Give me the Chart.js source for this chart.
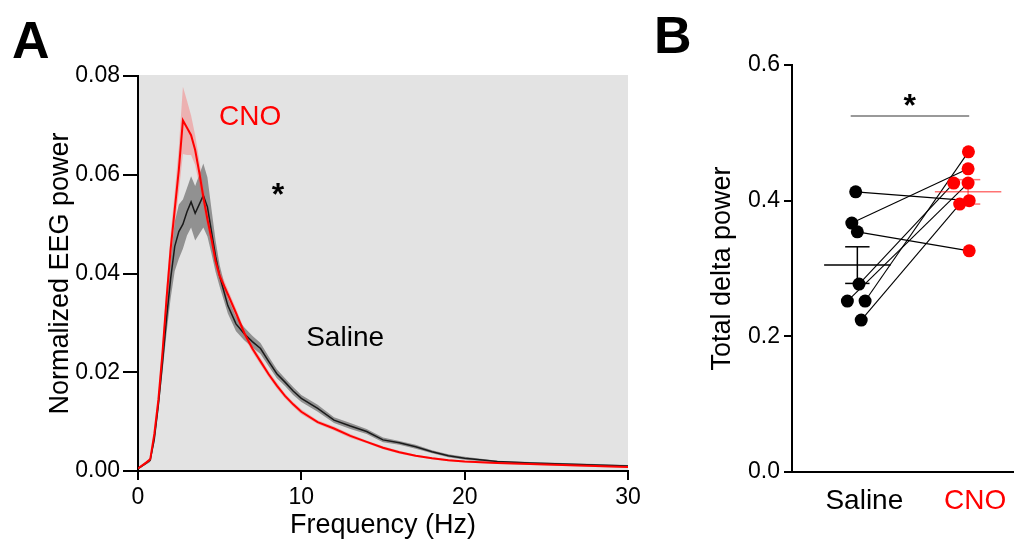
<!DOCTYPE html>
<html>
<head>
  <meta charset="UTF-8">
  <title>EEG power spectrum and delta power</title>
  <script src="https://cdn.jsdelivr.net/npm/chart.js"></script>
  <style>
    body { margin: 0; background: #fff; font-family: "Liberation Sans", Arial, sans-serif; }
    #wrap { position: relative; width: 1020px; height: 548px; overflow: hidden; }
    #chartA { position: absolute; left: 0; top: 0; }
    #chartB { position: absolute; left: 650px; top: 0; }
    .panel { position: absolute; font-weight: bold; font-size: 52px; line-height: 1; color: #000; }
  </style>
</head>
<body>
<div id="wrap">
  <canvas id="chartA" width="650" height="548"></canvas>
  <canvas id="chartB" width="370" height="548"></canvas>
  <div class="panel" style="left:12px; top:14px;">A</div>
  <div class="panel" style="left:654px; top:9px;">B</div>
</div>

<script>
// ---- panel A: spectra (mean and SEM) ----
const freqs = [0, 0.5, 0.75, 1, 1.25, 1.5, 1.75, 2, 2.25, 2.5, 2.75, 3, 3.25, 3.5, 3.75, 4, 4.25, 4.5, 4.75, 5,
  5.5, 6, 6.5, 7, 7.5, 8, 8.5, 9, 9.5, 10, 11, 12, 13, 14, 15, 16, 17, 18, 19, 20, 22, 24, 26, 28, 30];
const cnoMean = [0.0005, 0.0017, 0.0024, 0.0075, 0.0145, 0.024, 0.035, 0.045, 0.053, 0.061, 0.071, 0.0695, 0.068, 0.065, 0.0605, 0.0555, 0.051, 0.047, 0.0425, 0.0395,
  0.0358, 0.032, 0.028, 0.0248, 0.0222, 0.0196, 0.0173, 0.0152, 0.0135, 0.012, 0.0099, 0.0086, 0.0071, 0.0059, 0.0047, 0.0038, 0.0031, 0.0026, 0.0022, 0.0019, 0.0016, 0.0014, 0.0012, 0.001, 0.0008];
const cnoSem = [0.0002, 0.0003, 0.0004, 0.0008, 0.0012, 0.0018, 0.0025, 0.003, 0.0035, 0.0045, 0.0068, 0.0055, 0.004, 0.003, 0.0025, 0.002, 0.0018, 0.0015, 0.0013, 0.0012,
  0.001, 0.0009, 0.0008, 0.0007, 0.0007, 0.0006, 0.0006, 0.0005, 0.0005, 0.0005, 0.0004, 0.0004, 0.0004, 0.0003, 0.0003, 0.0003, 0.0002, 0.0002, 0.0002, 0.0002, 0.0002, 0.0002, 0.0002, 0.0002, 0.0002];
const salMean = [0.0005, 0.0016, 0.0022, 0.0065, 0.0135, 0.022, 0.031, 0.039, 0.0455, 0.0485, 0.05, 0.0525, 0.0545, 0.0522, 0.054, 0.0558, 0.0535, 0.0485, 0.0435, 0.0395,
  0.0335, 0.0298, 0.0278, 0.0262, 0.0248, 0.0222, 0.0197, 0.018, 0.0162, 0.0147, 0.0127, 0.0103, 0.0091, 0.008, 0.0063, 0.0057, 0.0049, 0.0039, 0.0031, 0.0026, 0.0019, 0.0016, 0.0014, 0.0012, 0.001];
const salSem = [0.0002, 0.0003, 0.0004, 0.0008, 0.0012, 0.002, 0.003, 0.004, 0.005, 0.0055, 0.005, 0.0048, 0.0052, 0.0055, 0.006, 0.0065, 0.006, 0.0045, 0.0032, 0.0022,
  0.0016, 0.0015, 0.0013, 0.0012, 0.0011, 0.001, 0.0009, 0.0008, 0.0008, 0.0007, 0.0007, 0.0006, 0.0006, 0.0005, 0.0005, 0.0004, 0.0004, 0.0003, 0.0003, 0.0003, 0.0002, 0.0002, 0.0002, 0.0002, 0.0002];
const xTicksA = [0, 10, 20, 30];
const yTicksA = [0, 0.02, 0.04, 0.06, 0.08];

// ---- panel B: total delta power per animal ----
const groups = ["Saline", "CNO"];
const salineVals = [0.413, 0.367, 0.354, 0.277, 0.252, 0.252, 0.224];
const salineJitter = [-0.015, -0.05, 0, 0.015, -0.09, 0.07, 0.035];
const cnoVals = [0.400, 0.447, 0.326, 0.426, 0.426, 0.472, 0.395];   // same animal order as saline
const cnoJitter = [0.01, 0, 0.01, -0.13, 0, 0.003, -0.076];
const groupMean = [0.305, 0.413];
const groupSem = [0.027, 0.018];
const yTicksB = [0, 0.2, 0.4, 0.6];

const FONT = "'Liberation Sans', Arial, sans-serif";
const tickFont = { family: FONT, size: 23 };
const titleFont = { family: FONT, size: 27 };

function pts(xs, ys) { return xs.map((x, i) => ({ x: x, y: ys[i] })); }

const bgPlugin = {
  id: "bg",
  beforeDraw(chart) {
    const a = chart.chartArea, ctx = chart.ctx;
    ctx.save();
    ctx.fillStyle = "#e3e3e3";
    ctx.fillRect(a.left, a.top - 1, a.right - a.left, a.bottom - a.top + 1);
    ctx.restore();
  }
};

function drawText(chart, txt, x, y, color, size, bold, star) {
  const ctx = chart.ctx;
  const px = chart.scales.x.getPixelForValue(x);
  const py = chart.scales.y.getPixelForValue(y);
  ctx.save();
  ctx.fillStyle = color;
  ctx.font = (bold ? "bold " : "") + size + "px " + FONT;
  ctx.textAlign = "center";
  if (star) {
    ctx.textBaseline = "alphabetic";
    ctx.fillText(txt, px, py + size * 0.57);
  } else {
    ctx.textBaseline = "middle";
    ctx.fillText(txt, px, py);
  }
  ctx.restore();
}

const labelsA = {
  id: "labelsA",
  afterDatasetsDraw(chart) {
    drawText(chart, "CNO", 6.86, 0.0717, "#ff0000", 28, false);
    drawText(chart, "*", 8.57, 0.0575, "#000", 32, true, true);
    drawText(chart, "Saline", 12.68, 0.0269, "#000", 28, false);
  }
};

new Chart(document.getElementById("chartA"), {
  type: "line",
  data: {
    datasets: [
      { data: pts(freqs, cnoMean), borderColor: "#ff0000", borderWidth: 2, pointRadius: 0, fill: false },
      { data: pts(freqs, salMean), borderColor: "#1a1a1a", borderWidth: 1.5, pointRadius: 0, fill: false },
      { data: pts(freqs, cnoMean.map((m, i) => m + cnoSem[i])), borderWidth: 0, borderColor: "transparent", pointRadius: 0,
        backgroundColor: "rgba(255,70,70,0.32)", fill: 3 },
      { data: pts(freqs, cnoMean.map((m, i) => m - cnoSem[i])), borderWidth: 0, borderColor: "transparent", pointRadius: 0, fill: false },
      { data: pts(freqs, salMean.map((m, i) => m + salSem[i])), borderWidth: 0, borderColor: "transparent", pointRadius: 0,
        backgroundColor: "rgba(0,0,0,0.36)", fill: 5 },
      { data: pts(freqs, salMean.map((m, i) => m - salSem[i])), borderWidth: 0, borderColor: "transparent", pointRadius: 0, fill: false }
    ]
  },
  options: {
    responsive: false,
    animation: false,
    layout: { padding: { top: 76, right: 22, left: 0, bottom: 0 } },
    plugins: { legend: { display: false }, tooltip: { enabled: false } },
    elements: { line: { tension: 0 } },
    scales: {
      x: {
        type: "linear", min: 0, max: 30,
        afterBuildTicks(s) { s.ticks = xTicksA.map(v => ({ value: v })); },
        ticks: { font: tickFont, color: "#000", padding: 4, maxRotation: 0 },
        grid: { drawOnChartArea: false, tickLength: 9, color: "#000", lineWidth: 2 },
        border: { color: "#000", width: 2 },
        title: { display: true, text: "Frequency (Hz)", font: titleFont, color: "#000", padding: { top: 0, bottom: 6 } },
        afterFit(s) { s.height = 77; }
      },
      y: {
        type: "linear", min: 0, max: 0.08,
        afterBuildTicks(s) { s.ticks = yTicksA.map(v => ({ value: v })); },
        ticks: { font: tickFont, color: "#000", padding: 3, callback: v => v.toFixed(2) },
        grid: { drawOnChartArea: false, tickLength: 15, color: "#000", lineWidth: 2 },
        border: { color: "#000", width: 2 },
        title: { display: true, text: "Normalized EEG power", font: titleFont, color: "#000", padding: { top: 44, bottom: 0 } },
        afterFit(s) { s.width = 138; }
      }
    }
  },
  plugins: [bgPlugin, labelsA]
});

// ---- panel B ----
const statsB = {
  id: "statsB",
  afterDatasetsDraw(chart) {
    const ctx = chart.ctx, xs = chart.scales.x, ys = chart.scales.y;
    const seg = (x1, y1, x2, y2) => {
      ctx.beginPath();
      ctx.moveTo(xs.getPixelForValue(x1), ys.getPixelForValue(y1));
      ctx.lineTo(xs.getPixelForValue(x2), ys.getPixelForValue(y2));
      ctx.stroke();
    };
    ctx.save();
    groupMean.forEach((m, i) => {
      const c = i + 1, s = groupSem[i];
      ctx.strokeStyle = i === 0 ? "#000" : "rgba(255,0,0,0.55)";
      ctx.lineWidth = 1.5;
      seg(c - 0.3, m, c + 0.3, m);
      seg(c, m - s, c, m + s);
      seg(c - 0.11, m + s, c + 0.11, m + s);
      seg(c - 0.11, m - s, c + 0.11, m - s);
    });
    ctx.strokeStyle = "#999";
    ctx.lineWidth = 2;
    seg(0.94, 0.525, 2.01, 0.525);
    ctx.restore();
    drawText(chart, "*", 1.474, 0.551, "#000", 32, true, true);
  }
};

const pairSets = salineVals.map((s, i) => ({
  data: [{ x: 1 + salineJitter[i], y: s }, { x: 2 + cnoJitter[i], y: cnoVals[i] }],
  showLine: true, borderColor: "#000", borderWidth: 1.1, pointRadius: 0
}));

new Chart(document.getElementById("chartB"), {
  type: "scatter",
  data: {
    datasets: [
      { data: pts(salineJitter.map(j => 1 + j), salineVals), backgroundColor: "#000", pointRadius: 6.5, borderWidth: 0 },
      { data: pts(cnoJitter.map(j => 2 + j), cnoVals), backgroundColor: "#ff0000", pointRadius: 6.5, borderWidth: 0 }
    ].concat(pairSets)
  },
  options: {
    responsive: false,
    animation: false,
    layout: { padding: { top: 65, right: 0, left: 0, bottom: 0 } },
    plugins: { legend: { display: false }, tooltip: { enabled: false } },
    scales: {
      x: {
        type: "linear", min: 0.41, max: 2.41,
        afterBuildTicks(s) { s.ticks = [{ value: 1 }, { value: 2 }]; },
        ticks: {
          font: { family: FONT, size: 28 }, padding: 12, labelOffset: 7, maxRotation: 0,
          color: c => (c.index === 1 ? "#ff0000" : "#000"),
          callback: v => groups[Math.round(v) - 1]
        },
        grid: { display: false, drawTicks: false },
        border: { display: true, color: "#000", width: 2 },
        afterFit(s) { s.height = 76; }
      },
      y: {
        type: "linear", min: 0, max: 0.6,
        afterBuildTicks(s) { s.ticks = yTicksB.map(v => ({ value: v })); },
        ticks: { font: tickFont, color: "#000", padding: 4, callback: v => v.toFixed(1) },
        grid: { drawOnChartArea: false, tickLength: 8, color: "#000", lineWidth: 2 },
        border: { color: "#000", width: 2 },
        title: { display: true, text: "Total delta power", font: titleFont, color: "#000", padding: { top: 56, bottom: 0 } },
        afterFit(s) { s.width = 142; }
      }
    }
  },
  plugins: [statsB]
});
</script>
</body>
</html>
